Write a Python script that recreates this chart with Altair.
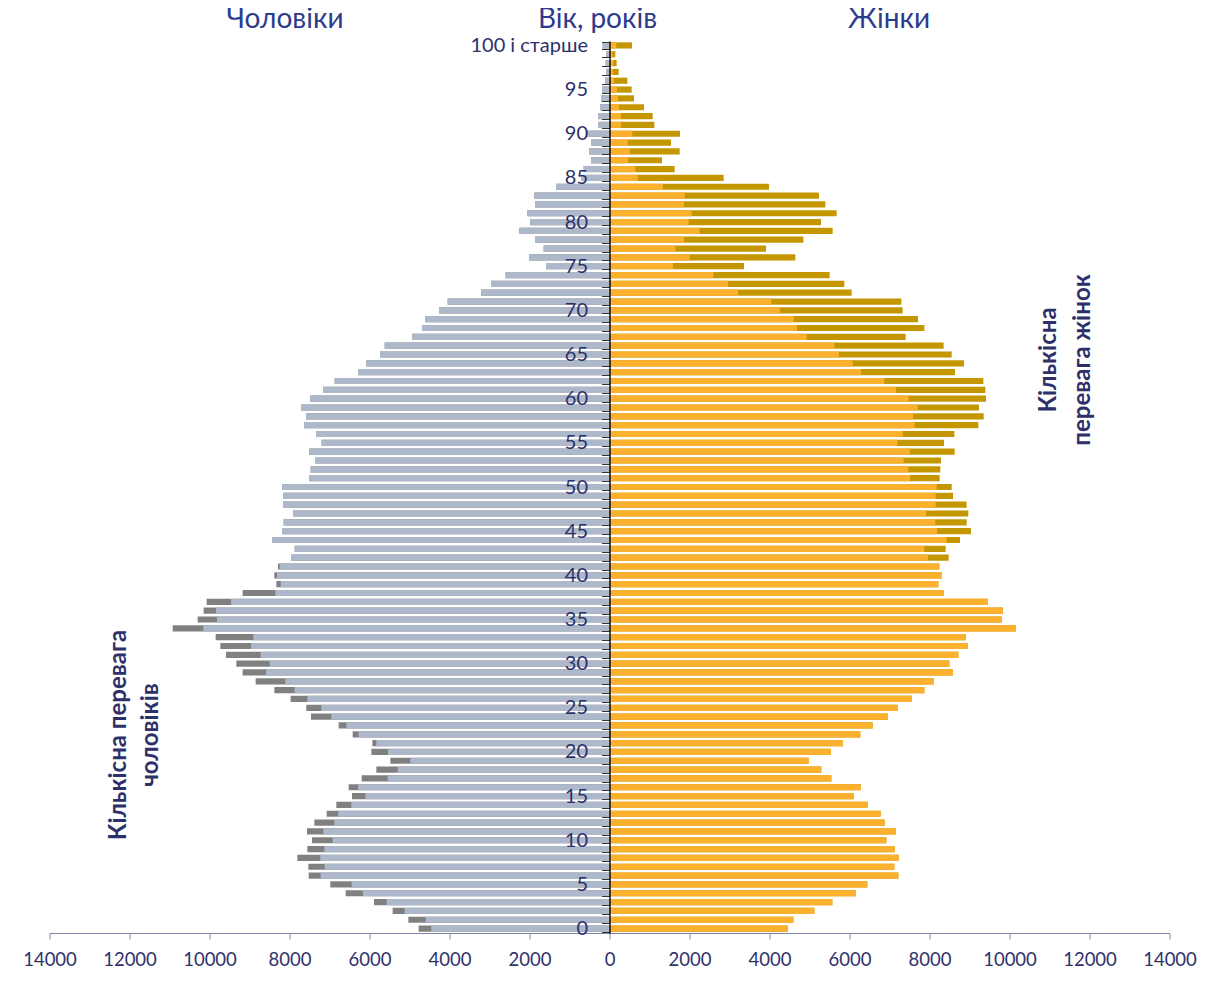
import altair as alt
import pandas as pd

ages = list(range(0, 101))

men = [4771, 5029, 5421, 5887, 6596, 6979, 7521, 7529, 7804, 7554,
       7437, 7562, 7379, 7071, 6829, 6437, 6521, 6196, 5829, 5479,
       5954, 5929, 6421, 6771, 7462, 7579, 7971, 8379, 8846, 9171,
       9329, 9587, 9729, 9846, 10921, 10296, 10146, 10071, 9171, 8329,
       8379, 8287, 7962, 7871, 8429, 8187, 8146, 7912, 8154, 8154,
       8179, 7512, 7471, 7354, 7504, 7196, 7329, 7629, 7587, 7704,
       7479, 7162, 6871, 6287, 6079, 5737, 5621, 4929, 4687, 4604,
       4262, 4046, 3212, 2962, 2596, 1587, 2004, 1646, 1862, 2254,
       1979, 2054, 1862, 1879, 1337, 704, 646, 462, 512, 454,
       570, 287, 287, 237, 212, 187, 112, 88, 95, 80,
       170]

women = [4454, 4596, 5121, 5571, 6162, 6446, 7221, 7121, 7229, 7129,
         6921, 7154, 6879, 6779, 6454, 6104, 6287, 5546, 5296, 4979,
         5537, 5829, 6271, 6579, 6954, 7204, 7554, 7871, 8104, 8587,
         8496, 8721, 8962, 8904, 10154, 9812, 9837, 9462, 8354, 8221,
         8312, 8246, 8479, 8404, 8762, 9037, 8929, 8971, 8929, 8587,
         8554, 8254, 8271, 8287, 8629, 8362, 8621, 9221, 9354, 9237,
         9412, 9396, 9346, 8637, 8862, 8554, 8354, 7404, 7871, 7712,
         7329, 7296, 6054, 5871, 5504, 3362, 4646, 3912, 4846, 5579,
         5287, 5679, 5396, 5237, 3987, 2854, 1629, 1312, 1754, 1537,
         1762, 1121, 1079, 862, 612, 554, 446, 229, 179, 146,
         562]

x_ticks = list(range(-14000, 14001, 2000))

titles_text = ["Чоловіки", "Вік, років", "Жінки"]
titles_px = [235.5, 548.0, 839.5]

NAVY = "#2e3169"
TITLE = "#2d3b8c"
MEN_LIGHT = "#adb9cb"
MEN_DARK = "#808080"
WOMEN_LIGHT = "#fbb12e"
WOMEN_DARK = "#c49600"
FONT = "Lato"

df = pd.DataFrame({"age": ages, "men": men, "women": women})
df["common"] = df[["men", "women"]].min(axis=1)
df["men_neg"] = -df["men"]
df["common_neg"] = -df["common"]

y_enc = alt.Y(
    "age:O",
    sort="descending",
    scale=alt.Scale(paddingInner=0.3, paddingOuter=0.15),
    axis=alt.Axis(
        orient="left",
        offset=-560,
        zindex=1,
        title=None,
        domainColor="black",
        domainWidth=1.4,
        tickColor="#333333",
        tickSize=8,
        tickWidth=1,
        tickBand="extent",
        labelPadding=14,
        labelFont=FONT,
        labelFontSize=20,
        labelColor=NAVY,
        labelOverlap=False,
        labelBound=False,
        labelExpr="datum.value == 100 ? '100 і старше' : (datum.value % 5 == 0 ? '' + datum.value : '')",
    ),
)

x_scale = alt.Scale(domain=[-14000, 14000], nice=False, zero=False)
x_axis = alt.Axis(
    values=x_ticks,
    labelExpr="format(abs(datum.value), 'd')",
    title=None,
    grid=False,
    domainColor="#7d84a6",
    domainWidth=1.2,
    tickColor="#7d84a6",
    tickSize=6,
    labelPadding=11,
    labelFont=FONT,
    labelFontSize=18.5,
    labelColor=NAVY,
    labelFlush=False,
    labelOverlap=False,
)

base = alt.Chart(df)

men_dark = base.mark_bar(color=MEN_DARK).encode(
    x=alt.X("men_neg:Q", scale=x_scale, axis=x_axis), x2=alt.datum(0), y=y_enc)
men_light = base.mark_bar(color=MEN_LIGHT).encode(
    x=alt.X("common_neg:Q", scale=x_scale, axis=x_axis), x2=alt.datum(0), y=y_enc)
women_dark = base.mark_bar(color=WOMEN_DARK).encode(
    x=alt.X("women:Q", scale=x_scale, axis=x_axis), x2=alt.datum(0), y=y_enc)
women_light = base.mark_bar(color=WOMEN_LIGHT).encode(
    x=alt.X("common:Q", scale=x_scale, axis=x_axis), x2=alt.datum(0), y=y_enc)

titles_df = pd.DataFrame({"label": titles_text, "px": titles_px})
titles = alt.Chart(titles_df).mark_text(
    font=FONT, fontSize=28, color=TITLE, align="center", baseline="alphabetic"
).encode(text="label:N", x=alt.X("px:Q", scale=None), y=alt.value(-13))

note_right = alt.Chart(pd.DataFrame({"t": [0]})).mark_text(
    text=["Кількісна", "перевага жінок"], angle=270, font=FONT, fontSize=24,
    fontWeight="bold", color=NAVY, align="center", baseline="middle", lineHeight=34
).encode(x=alt.value(999.5), y=alt.value(319))

note_left = alt.Chart(pd.DataFrame({"t": [0]})).mark_text(
    text=["Кількісна перевага", "чоловіків"], angle=270, font=FONT, fontSize=24,
    fontWeight="bold", color=NAVY, align="center", baseline="middle", lineHeight=32
).encode(x=alt.value(69.5), y=alt.value(694))

chart = alt.layer(
    men_dark, men_light, women_dark, women_light, titles, note_right, note_left
).properties(
    width=1120,
    height=892,
    autosize=alt.AutoSizeParams(type="none"),
    padding={"left": 41.5, "top": 33, "right": 36, "bottom": 41},
).configure_view(stroke=None)

chart.save("out.html", embed_options={"renderer": "svg", "actions": False})
